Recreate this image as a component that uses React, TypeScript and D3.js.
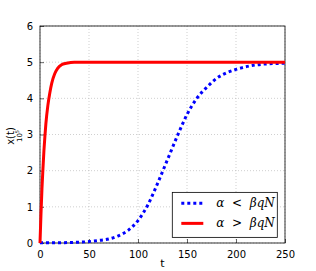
import React, { useRef, useEffect } from 'react';
import * as d3 from 'd3';

// values
const redT = [0, 1, 2, 3, 4, 5, 6, 8, 10, 12, 15, 18, 22, 27, 35, 50, 250];
const redX = [0, 0.8, 1.5, 2.05, 2.55, 2.95, 3.3, 3.8, 4.15, 4.42, 4.68, 4.83, 4.93, 4.97, 5, 5, 5];
const blueT = [0, 25, 50, 60, 70, 80, 90, 100, 110, 120, 130, 140, 150, 160, 170, 180, 190, 200, 215, 230, 250];
const blueX = [0.005, 0.01, 0.04, 0.07, 0.11, 0.2, 0.35, 0.62, 1.05, 1.65, 2.3, 2.95, 3.55, 4.0, 4.3, 4.55, 4.7, 4.8, 4.9, 4.95, 4.97];
const xTicks = [0, 50, 100, 150, 200, 250];
const yTicks = [0, 1, 2, 3, 4, 5, 6];
const legendLabels = ['α  <  βqN', 'α  >  βqN'];

const App = () => {
  const svgRef = useRef<SVGSVGElement>(null);

  useEffect(() => {
    const svg = d3.select(svgRef.current);
    svg.selectAll('*').remove();

    const width = 316;
    const height = 271;
    const margin = { top: 26, right: 31, bottom: 28, left: 40 };
    const innerWidth = width - margin.left - margin.right;
    const innerHeight = height - margin.top - margin.bottom;

    const x = d3.scaleLinear().domain([0, 250]).range([0, innerWidth]);
    const y = d3.scaleLinear().domain([0, 6]).range([innerHeight, 0]);

    const g = svg.append('g').attr('transform', `translate(${margin.left},${margin.top})`);

    // grid
    g.selectAll('.gx').data(xTicks).enter().append('line')
      .attr('x1', d => x(d)).attr('x2', d => x(d))
      .attr('y1', 0).attr('y2', innerHeight)
      .attr('stroke', '#b0b0b0').attr('stroke-width', 0.6).attr('stroke-dasharray', '1,2');
    g.selectAll('.gy').data(yTicks).enter().append('line')
      .attr('x1', 0).attr('x2', innerWidth)
      .attr('y1', d => y(d)).attr('y2', d => y(d))
      .attr('stroke', '#b0b0b0').attr('stroke-width', 0.6).attr('stroke-dasharray', '1,2');

    // axes (ticks inward)
    const xAxis = g.append('g').attr('transform', `translate(0,${innerHeight})`)
      .call(d3.axisBottom(x).tickValues(xTicks).tickSize(-4).tickPadding(8));
    const yAxis = g.append('g')
      .call(d3.axisLeft(y).tickValues(yTicks).tickSize(-4).tickPadding(7).tickFormat(d3.format('d')));
    [xAxis, yAxis].forEach(a => {
      a.select('.domain').remove();
      a.selectAll('text').style('font-family', 'DejaVu Sans').style('font-size', '10px').attr('fill', '#000');
      a.selectAll('line').attr('stroke', '#000').attr('stroke-width', 0.6);
    });

    // frame
    g.append('rect').attr('width', innerWidth).attr('height', innerHeight)
      .attr('fill', 'none').attr('stroke', '#000').attr('stroke-width', 0.8);

    const line = d3.line<[number, number]>().x(d => x(d[0])).y(d => y(d[1])).curve(d3.curveMonotoneX);

    g.append('path').datum(blueT.map((t, i) => [t, blueX[i]] as [number, number]))
      .attr('d', line).attr('fill', 'none').attr('stroke', '#0000ff')
      .attr('stroke-width', 3).attr('stroke-dasharray', '3,3');
    g.append('path').datum(redT.map((t, i) => [t, redX[i]] as [number, number]))
      .attr('d', line).attr('fill', 'none').attr('stroke', '#ff0000')
      .attr('stroke-width', 3);

    // axis labels
    svg.append('text').attr('x', margin.left + innerWidth / 2).attr('y', 267)
      .attr('text-anchor', 'middle').style('font-family', 'DejaVu Sans').style('font-size', '11px').text('t');
    const yl = svg.append('g').attr('transform', 'translate(14,136) rotate(-90)');
    yl.append('text').attr('text-anchor', 'middle').attr('y', 0)
      .style('font-family', 'DejaVu Sans').style('font-size', '10px').text('x(t)');
    const p = yl.append('text').attr('text-anchor', 'middle').attr('y', 8)
      .style('font-family', 'DejaVu Sans').style('font-size', '7px');
    p.append('tspan').text('10');
    p.append('tspan').attr('dy', -3).style('font-size', '5px').text('5');

    // legend
    const lg = g.append('g').attr('transform', `translate(${x(135)},${y(1.4)})`);
    lg.append('rect').attr('width', 105).attr('height', 45)
      .attr('fill', '#fff').attr('stroke', '#000').attr('stroke-width', 0.8);
    const colors = ['#0000ff', '#ff0000'];
    legendLabels.forEach((lab, i) => {
      const ly = 11 + i * 20;
      lg.append('line').attr('x1', 9).attr('x2', 31).attr('y1', ly).attr('y2', ly)
        .attr('stroke', colors[i]).attr('stroke-width', 3)
        .attr('stroke-dasharray', i === 0 ? '3,3' : null);
      lg.append('text').attr('x', 44).attr('y', ly + 4)
        .attr('xml:space', 'preserve')
        .style('white-space', 'pre')
        .style('font-family', 'DejaVu Serif').style('font-style', 'italic').style('font-size', '12px')
        .text(lab);
    });
  }, []);

  return (
    <svg ref={svgRef} width={316} height={271} style={{ position: 'absolute', left: 0, top: 0 }} />
  );
};

export default App;
